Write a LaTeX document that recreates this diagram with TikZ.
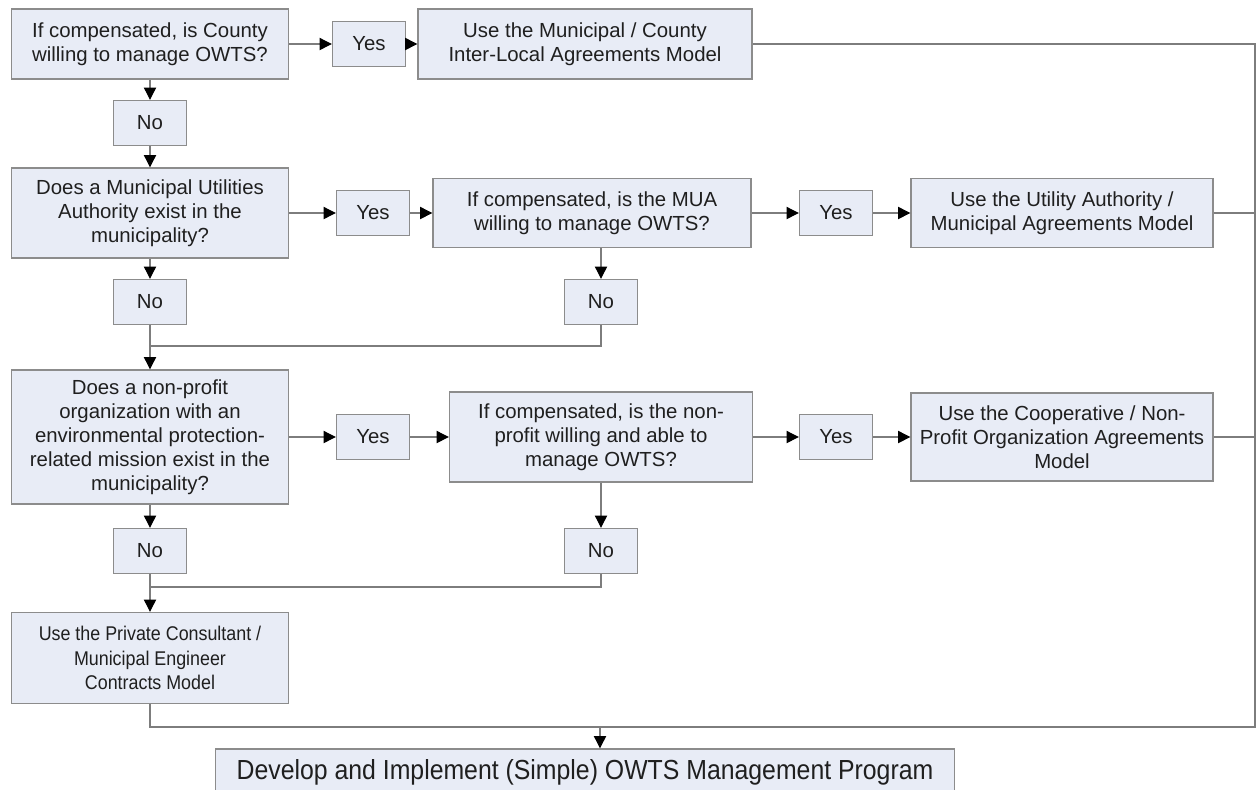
\documentclass[tikz,border=0pt]{standalone}
\usepackage{fontspec}
\setmainfont{Liberation Sans}
\newfontfamily\narrowfont[FakeStretch=0.9]{Liberation Sans}
\usetikzlibrary{arrows.meta,positioning}
\definecolor{boxfill}{RGB}{232,236,246}
\definecolor{boxline}{RGB}{140,140,140}
\definecolor{wire}{RGB}{125,125,125}
\tikzset{
  box/.style={draw=boxline, line width=0.8pt, fill=boxfill, align=center, text=black!88,
    font=\fontsize{11.6}{13.6}\selectfont, inner sep=0pt},
  answer/.style={box, minimum width=1.46cm, minimum height=0.9cm},
  link/.style={draw=wire, line width=0.6pt, -{Triangle[length=7pt,width=7pt,color=black]}},
  wireline/.style={draw=wire, line width=0.6pt}
}

\begin{document}
\begin{tikzpicture}[x=0.02cm,y=-0.02cm]
	\path[use as bounding box, clip] (0,0) rectangle (1256,789);
	\fill[white] (0,0) rectangle (1256,789);

	% first row: county
	\node[box, minimum width=5.54cm, minimum height=1.40cm] (county) at (150,44) {If compensated, is County\\willing to manage OWTS?};
	\node[answer] (yesA) at (369,44) {Yes};
	\node[box, minimum width=6.68cm, minimum height=1.40cm] (intlocal) at (585,44) {Use the Municipal / County\\Inter-Local Agreements Model};
	\node[answer] (noA) at (150,123) {No};

	% second row: utilities authority
	\node[box, minimum width=5.54cm, minimum height=1.80cm] (muaq) at (150,213) {Does a Municipal Utilities\\Authority exist in the\\municipality?};
	\node[answer] (yesB) at (373,213) {Yes};
	\node[box, minimum width=6.36cm, minimum height=1.38cm] (muaok) at (592,213) {If compensated, is the MUA\\willing to manage OWTS?};
	\node[answer] (yesC) at (836,213) {Yes};
	\node[box, minimum width=6.04cm, minimum height=1.38cm] (utility) at (1062,213) {Use the Utility Authority /\\Municipal Agreements Model};
	\node[answer] (noB) at (150,302) {No};
	\node[answer] (noC) at (601,302) {No};

	% third row: non-profit
	\node[box, minimum width=5.54cm, minimum height=2.68cm] (nonprof) at (150,437) {Does a non-profit\\organization with an\\environmental protection-\\related mission exist in the\\municipality?};
	\node[answer] (yesD) at (373,437) {Yes};
	\node[box, minimum width=6.06cm, minimum height=1.80cm] (npok) at (601,437) {If compensated, is the non-\\profit willing and able to\\manage OWTS?};
	\node[answer] (yesE) at (836,437) {Yes};
	\node[box, minimum width=6.04cm, minimum height=1.76cm] (coop) at (1062,437) {Use the Cooperative / Non-\\Profit Organization Agreements\\Model};
	\node[answer] (noD) at (150,551) {No};
	\node[answer] (noE) at (601,551) {No};

	% last resort and program
	\node[box, font=\narrowfont\fontsize{11.3}{13.8}\selectfont, minimum width=5.54cm, minimum height=1.82cm] (private) at (150,658) {Use the Private Consultant /\\Municipal Engineer\\Contracts Model};
	\node[box, font=\narrowfont\fontsize{15.7}{18}\selectfont, minimum width=14.78cm, minimum height=0.92cm] (program) at (585,772) {Develop and Implement (Simple) OWTS Management Program};

	\coordinate (mergeA) at (150,346);
	\coordinate (mergeB) at (150,587);
	\coordinate (merge) at (600,727);
	\coordinate (corner) at (1255,727);
	\coordinate (topright) at (1255,44);

	\draw[link] (county) -- (yesA);
	\draw[link] (yesA) -- (intlocal);
	\draw[link] (county) -- (noA);
	\draw[link] (noA) -- (muaq);
	\draw[link] (muaq) -- (yesB);
	\draw[link] (yesB) -- (muaok);
	\draw[link] (muaok) -- (yesC);
	\draw[link] (yesC) -- (utility);
	\draw[link] (muaq) -- (noB);
	\draw[link] (muaok.south -| noC) -- (noC);
	\draw[wireline] (noC.south) |- (mergeA);
	\draw[link] (noB) -- (nonprof);
	\draw[link] (nonprof) -- (yesD);
	\draw[link] (yesD) -- (npok);
	\draw[link] (npok) -- (yesE);
	\draw[link] (yesE) -- (coop);
	\draw[link] (nonprof) -- (noD);
	\draw[link] (npok) -- (noE);
	\draw[wireline] (noE.south) |- (mergeB);
	\draw[link] (noD) -- (private);

	\draw[wireline] (private.south) |- (corner) -- (topright) -- (intlocal.east);
	\draw[wireline] (utility.east) -- (utility.east -| corner);
	\draw[wireline] (coop.east) -- (coop.east -| corner);
	\draw[link] (merge) -- (program.north -| merge);
\end{tikzpicture}
\end{document}
